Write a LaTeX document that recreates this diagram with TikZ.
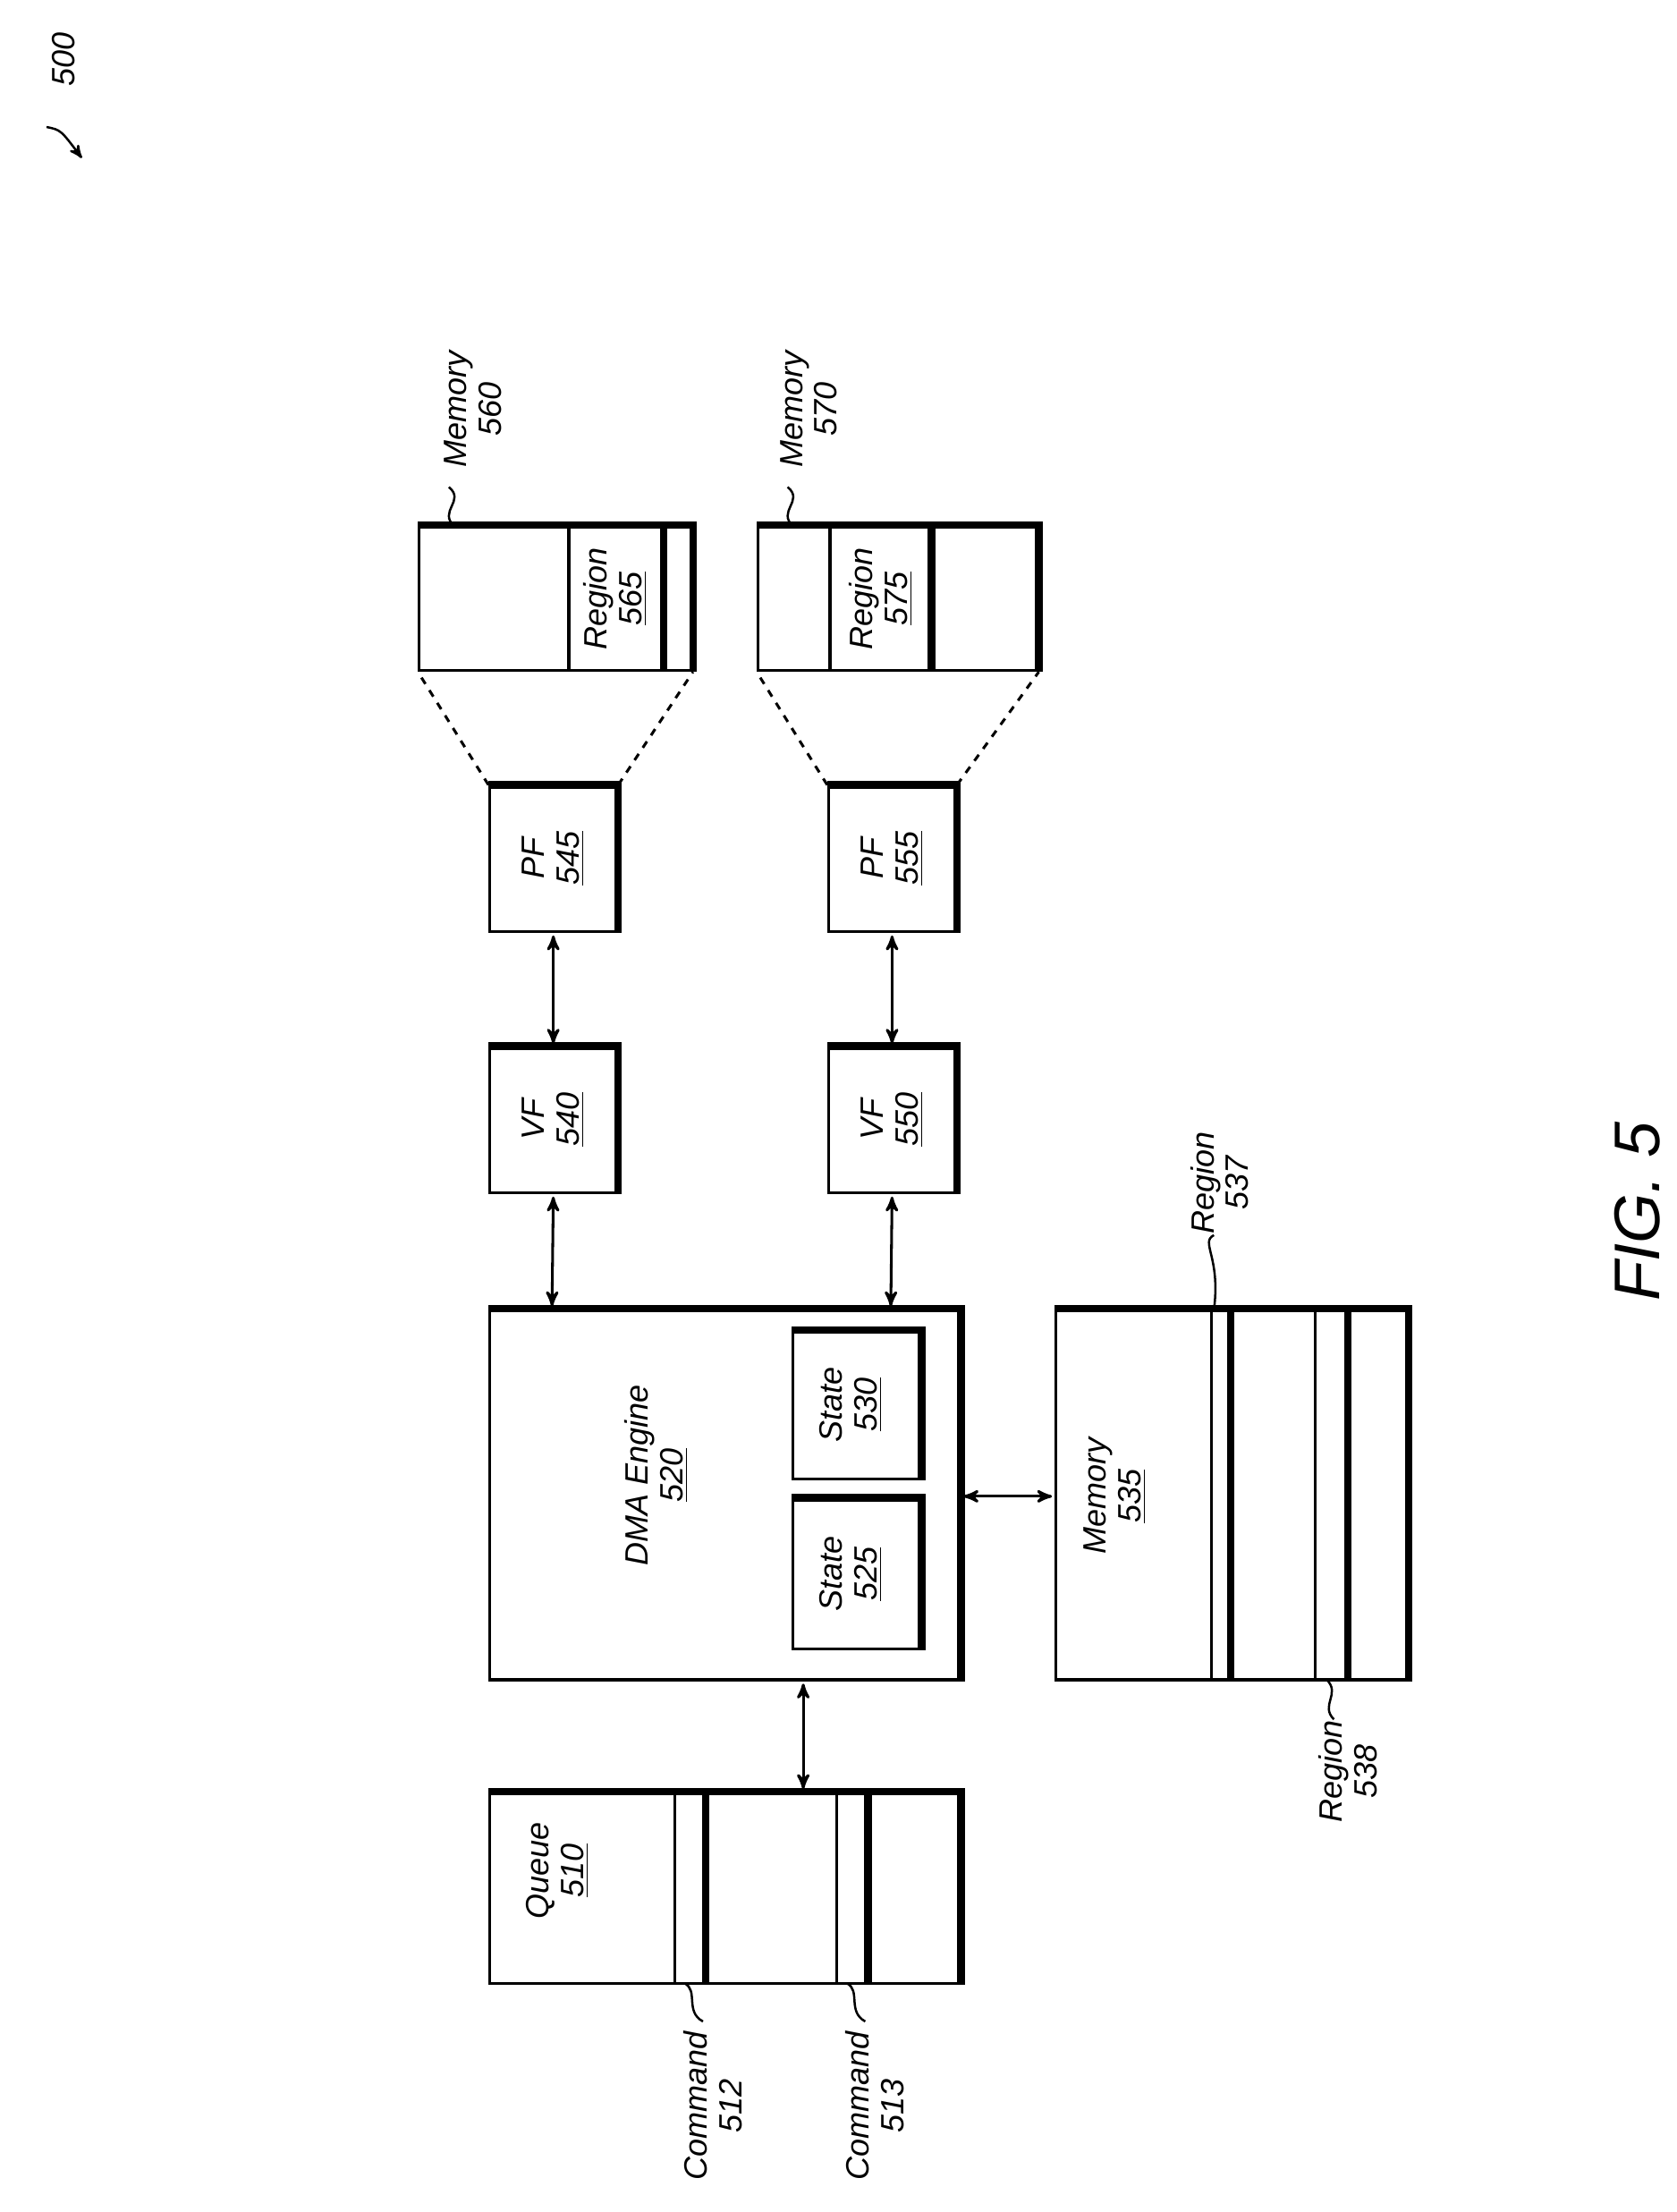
\documentclass[tikz,border=0pt]{standalone}
\usepackage{fontspec}
\setmainfont{Liberation Sans}
\usetikzlibrary{arrows}
\usetikzlibrary{calc}

\begin{document}
\begin{tikzpicture}[x=0.02cm,y=-0.02cm,>=stealth',
  blk/.style={rectangle,draw,line width=1.1pt,inner sep=0pt},
  lbl/.style={rotate=90,font=\itshape\fontsize{13}{14}\selectfont,align=center},
  dbl/.style={<->,line width=1.1pt,shorten >=1pt,shorten <=1pt},
  thk/.style={line width=3pt},
  sq/.style={line width=0.9pt}]

  \useasboundingbox (0,0) rectangle (1188,1567);

  % boxes
  \node[blk,minimum width=3.86cm,minimum height=2.04cm] (M560) at (393.5,424) {};
  \node[blk,minimum width=3.96cm,minimum height=2.04cm] (M570) at (636,424) {};
  \node[blk,minimum width=1.8cm,minimum height=2.06cm] (PF545) at (392,608.5) {};
  \node[blk,minimum width=1.8cm,minimum height=2.06cm] (PF555) at (632,608.5) {};
  \node[blk,minimum width=1.8cm,minimum height=2.06cm] (VF540) at (392,793.5) {};
  \node[blk,minimum width=1.8cm,minimum height=2.06cm] (VF550) at (632,793.5) {};
  \node[blk,minimum width=6.66cm,minimum height=5.24cm] (DMA) at (513.5,1059) {};
  \node[blk,minimum width=1.8cm,minimum height=2.1cm] (S530) at (607,995.5) {};
  \node[blk,minimum width=1.8cm,minimum height=2.12cm] (S525) at (607,1115) {};
  \node[blk,minimum width=4.98cm,minimum height=5.24cm] (M535) at (872.5,1059) {};
  \node[blk,minimum width=6.66cm,minimum height=2.7cm] (Q) at (513.5,1337.5) {};

  \foreach \n in {M560,M570,PF545,PF555,VF540,VF550,DMA,S530,S525,M535,Q}
    \draw[thk] (\n.north west) -- (\n.north east) -- (\n.south east);

  % dividers
  \draw[line width=1.1pt] (403,373) -- (403,475);
  \draw[thk] (470,373) -- (470,475);
  \draw[line width=1.1pt] (588,373) -- (588,475);
  \draw[thk] (660,373) -- (660,475);
  \draw[line width=1.1pt] (858,928) -- (858,1190);
  \draw[thk] (872,928) -- (872,1190);
  \draw[line width=1.1pt] (932,928) -- (932,1190);
  \draw[thk] (955,928) -- (955,1190);
  \draw[line width=1.1pt] (478,1270) -- (478,1405);
  \draw[thk] (500,1270) -- (500,1405);
  \draw[line width=1.1pt] (593,1270) -- (593,1405);
  \draw[thk] (615,1270) -- (615,1405);

  % texts
  \node[lbl] at (436,424) {Region\\\underline{565}};
  \node[lbl] at (624,424) {Region\\\underline{575}};
  \node[lbl] at (392,608) {PF\\\underline{545}};
  \node[lbl] at (632,608) {PF\\\underline{555}};
  \node[lbl] at (392,793) {VF\\\underline{540}};
  \node[lbl] at (632,793) {VF\\\underline{550}};
  \node[lbl] at (465,1045) {DMA Engine\\\underline{520}};
  \node[lbl] at (603,995) {State\\\underline{530}};
  \node[lbl] at (603,1115) {State\\\underline{525}};
  \node[lbl] at (790,1060) {Memory\\\underline{535}};
  \node[lbl] at (395,1325) {Queue\\\underline{510}};
  \node[lbl] (L560) at (335,290) {Memory\\560};
  \node[lbl] (L570) at (573,290) {Memory\\570};
  \node[lbl] (L537) at (864,838) {Region\\537};
  \node[lbl] (L538) at (955,1255) {Region\\538};
  \node[lbl] (L512) at (505,1492) {Command\\512};
  \node[lbl] (L513) at (620,1492) {Command\\513};
  \node[lbl] (L500) at (45,42) {500};
  \node[rotate=90,font=\itshape\fontsize{26}{28}\selectfont] (FIG) at (1160,858) {FIG. 5};

  % zoom lines
  \draw[dashed,line width=1.1pt] (PF545.north west) -- (M560.south west);
  \draw[dashed,line width=1.1pt] (PF545.north east) -- (M560.south east);
  \draw[dashed,line width=1.1pt] (PF555.north west) -- (M570.south west);
  \draw[dashed,line width=1.1pt] (PF555.north east) -- (M570.south east);

  % arrows
  \draw[dbl] (PF545.south) -- (VF540.north);
  \draw[dbl] (PF555.south) -- (VF550.north);
  \draw[dbl] (VF540.south) -- ($(DMA.north west)+(45,0)$);
  \draw[dbl] (VF550.south) -- ($(DMA.north west)+(285,0)$);
  \draw[dbl] ($(DMA.east)+(0,1)$) -- ($(M535.west)+(0,1)$);
  \draw[dbl] ($(DMA.south west)+(223,0)$) -- ($(Q.north west)+(223,0)$);

  % leaders
  \draw[sq] (318,345) .. controls (330,355) and (310,362) .. (322,373);
  \draw[sq] (558,345) .. controls (570,355) and (550,362) .. (562,373);
  \draw[sq] (860,875) .. controls (850,880) and (865,890) .. (860,928);
  \draw[sq] (940,1190) .. controls (950,1200) and (935,1208) .. (945,1218);
  \draw[sq] (485,1405) .. controls (495,1410) and (485,1425) .. (498,1432);
  \draw[sq] (600,1405) .. controls (610,1410) and (600,1425) .. (613,1432);
  \draw[->,sq] (33,90) .. controls (43,92) .. (58,112);
\end{tikzpicture}
\end{document}
